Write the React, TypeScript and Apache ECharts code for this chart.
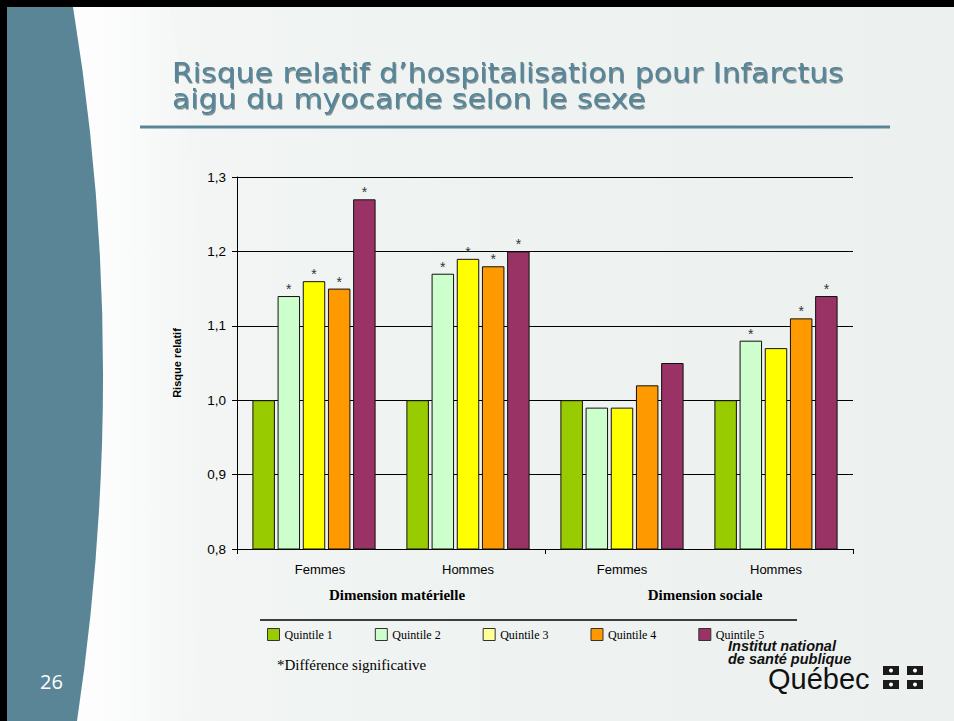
import React, { useEffect, useRef } from "react";
import * as echarts from "echarts";

const categories = ["Femmes", "Hommes", "Femmes", "Hommes"];
const dimensions = ["Dimension matérielle", "Dimension sociale"];
const quintiles = ["Quintile 1", "Quintile 2", "Quintile 3", "Quintile 4", "Quintile 5"];
const colors = ["#99cc00", "#ccffcc", "#ffff00", "#ff9900", "#993366"];
const legendColors = ["#99cc00", "#ccffcc", "#ffff99", "#ff9900", "#993366"];

const q1 = [1.0, 1.0, 1.0, 1.0];
const q2 = [1.14, 1.17, 0.99, 1.08];
const q3 = [1.16, 1.19, 0.99, 1.07];
const q4 = [1.15, 1.18, 1.02, 1.11];
const q5 = [1.27, 1.2, 1.05, 1.14];

const sig1 = [false, false, false, false];
const sig2 = [true, true, false, true];
const sig3 = [true, true, false, false];
const sig4 = [true, true, false, true];
const sig5 = [true, true, false, true];

const yMin = 0.8;
const yMax = 1.3;
const yStep = 0.1;

const titleLines = [
  "Risque relatif d’hospitalisation pour Infarctus",
  "aigu du myocarde selon le sexe",
];

let registered = false;
function registerShapes() {
  if (registered) return;
  registered = true;
  echarts.graphic.registerShape(
    "leftpanel",
    echarts.graphic.extendPath("M7 7 L73 7 Q131 360 77 721 L7 721 Z", {}) as any
  );
  echarts.graphic.registerShape(
    "glowband",
    echarts.graphic.extendPath("M73 7 Q131 360 77 721 L190 721 Q230 360 170 7 Z", {}) as any
  );
}

export default function App() {
  const ref = useRef<HTMLDivElement>(null);
  useEffect(() => {
    if (!ref.current) return;
    registerShapes();
    const chart = echarts.init(ref.current, null, { renderer: "svg" });
    const values = [q1, q2, q3, q4, q5];
    const sigs = [sig1, sig2, sig3, sig4, sig5];

    const series = values.map((vals, i) => ({
      name: quintiles[i],
      type: "bar",
      data: vals,
      barGap: "12%",
      barCategoryGap: "20%",
      itemStyle: { color: colors[i], borderColor: "#111", borderWidth: 1 },
      label: {
        show: true,
        position: "top",
        distance: 0,
        formatter: (p: any) => (sigs[i][p.dataIndex] ? "*" : ""),
        fontSize: 14,
        color: "#333",
        fontFamily: "Liberation Sans",
      },
      z: 3,
    }));

    const flag = (x: number, y: number) => [
      { type: "rect", shape: { x, y, width: 16, height: 9 }, style: { fill: "#1b1b1b" }, z: 1 },
      { type: "circle", shape: { cx: x + 8, cy: y + 4.5, r: 2 }, style: { fill: "#ffffff" }, z: 1 },
    ];

    const titleStyle = {
      fill: "#54869a",
      fontSize: 26,
      fontFamily: "DejaVu Sans",
      fontWeight: "normal",
      verticalAlign: "middle",
      textShadowColor: "rgba(40,55,60,0.6)",
      textShadowOffsetX: 1,
      textShadowOffsetY: 1.5,
      textShadowBlur: 1,
    };

    const logoStyle = {
      fill: "#111",
      fontSize: 14.5,
      lineHeight: 12,
      fontFamily: "Liberation Sans",
      fontWeight: "bold",
      fontStyle: "italic",
      verticalAlign: "middle",
    };

    const option: any = {
      animation: false,
      backgroundColor: "#000000",
      grid: { left: 237, right: 101, top: 177, bottom: 172, containLabel: false },
      legend: {
        left: 267,
        top: 628,
        padding: 0,
        itemWidth: 12,
        itemHeight: 12,
        itemGap: 42,
        icon: "rect",
        textStyle: {
          fontFamily: "Liberation Serif",
          fontSize: 12,
          color: "#000",
        },
        data: quintiles.map((q, i) => ({
          name: q,
          itemStyle: { color: legendColors[i], borderColor: "#333", borderWidth: 1 },
        })),
      },
      xAxis: [
        {
          type: "category",
          data: categories,
          position: "bottom",
          axisLine: { show: true, lineStyle: { color: "#000", width: 1 } },
          axisTick: { show: false },
          axisLabel: {
            margin: 14,
            fontSize: 13,
            fontFamily: "Liberation Sans",
            color: "#000",
            formatter: (v: string, i: number) => (i === 0 ? `{s|${v}}` : v),
            rich: {
              s: {
                padding: [0, 0, 0, 12],
                fontSize: 13,
                fontFamily: "Liberation Sans",
                color: "#000",
              },
            },
          },
          splitLine: { show: false },
        },
        {
          type: "category",
          data: dimensions,
          position: "bottom",
          axisLine: { show: true, lineStyle: { color: "#000", width: 1 } },
          axisTick: { show: true, length: 5, lineStyle: { color: "#000" } },
          axisLabel: {
            margin: 38,
            fontSize: 15,
            fontWeight: "bold",
            fontFamily: "Liberation Serif",
            color: "#000",
            padding: [0, 0, 0, 12],
          },
          splitLine: { show: false },
        },
      ],
      yAxis: {
        type: "value",
        min: yMin,
        max: yMax,
        interval: yStep,
        name: "Risque relatif",
        nameLocation: "middle",
        nameGap: 55,
        nameTextStyle: {
          fontFamily: "Liberation Sans",
          fontWeight: "bold",
          fontSize: 11,
          color: "#000",
        },
        axisLine: { show: true, lineStyle: { color: "#000", width: 1 } },
        axisTick: { show: true, length: 5, lineStyle: { color: "#000" } },
        axisLabel: {
          margin: 11,
          fontSize: 13.5,
          fontFamily: "Liberation Sans",
          color: "#000",
          formatter: (v: number) => v.toFixed(1).replace(".", ","),
        },
        splitLine: { show: true, lineStyle: { color: "#000", width: 1 } },
      },
      series,
      graphic: [
        {
          type: "rect",
          shape: { x: 7, y: 7, width: 947, height: 714 },
          style: {
            fill: new echarts.graphic.LinearGradient(0, 0, 1, 0, [
              { offset: 0, color: "#f6f8f7" },
              { offset: 0.4, color: "#eff3f1" },
              { offset: 1, color: "#ecf0ef" },
            ]),
          },
          z: -10,
          silent: true,
        },
        {
          type: "glowband",
          style: {
            fill: new echarts.graphic.LinearGradient(0, 0, 1, 0, [
              { offset: 0, color: "rgba(255,255,255,0.9)" },
              { offset: 1, color: "rgba(255,255,255,0)" },
            ]),
          },
          z: -9,
          silent: true,
        },
        {
          type: "leftpanel",
          style: { fill: "#5a8597" },
          z: -8,
          silent: true,
        },
        {
          type: "text",
          left: 40,
          top: 671,
          style: {
            text: "26",
            fill: "#ffffff",
            fontSize: 20,
            fontFamily: "Open Sans",
          },
          z: 1,
        },
        {
          type: "text",
          x: 172,
          y: 73,
          scaleX: 1.15,
          style: { ...titleStyle, text: titleLines[0] },
          z: 1,
        },
        {
          type: "text",
          x: 172,
          y: 99,
          scaleX: 1.15,
          style: { ...titleStyle, text: titleLines[1] },
          z: 1,
        },
        {
          type: "line",
          shape: { x1: 140, y1: 127, x2: 890, y2: 127 },
          style: { stroke: "#5a8597", lineWidth: 3 },
          z: 1,
        },
        {
          type: "line",
          shape: { x1: 260, y1: 620, x2: 797, y2: 620 },
          style: { stroke: "#000", lineWidth: 1.5 },
          z: 1,
        },
        {
          type: "text",
          x: 277,
          y: 665,
          style: {
            text: "*Différence significative",
            fill: "#000",
            fontSize: 15,
            fontFamily: "Liberation Serif",
            verticalAlign: "middle",
          },
          z: 1,
        },
        {
          type: "text",
          x: 728,
          y: 646,
          style: { ...logoStyle, text: "Institut national" },
          z: 1,
        },
        {
          type: "text",
          x: 728,
          y: 659,
          style: { ...logoStyle, text: "de santé publique" },
          z: 1,
        },
        {
          type: "text",
          x: 768,
          y: 679,
          style: {
            text: "Québec",
            fill: "#111",
            fontSize: 29,
            lineHeight: 20,
            fontFamily: "Liberation Sans",
            verticalAlign: "middle",
          },
          z: 1,
        },
        ...flag(883, 666),
        ...flag(907, 666),
        ...flag(883, 680),
        ...flag(907, 680),
      ],
    };
    chart.setOption(option);
    return () => chart.dispose();
  }, []);
  return <div ref={ref} style={{ width: 954, height: 721, position: "absolute", left: 0, top: 0 }} />;
}
